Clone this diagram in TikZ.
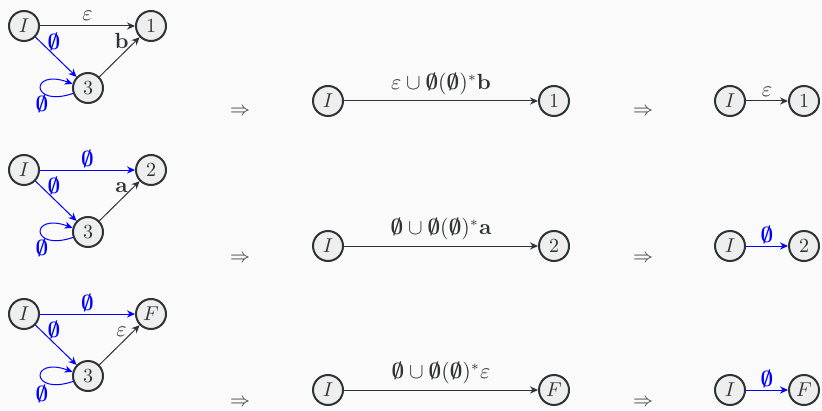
\documentclass[tikz,border=0pt]{standalone}
\usepackage{amsmath}
\usetikzlibrary{arrows.meta}
\definecolor{bg}{HTML}{FAFAFA}
\definecolor{ink}{HTML}{2E3436}
\definecolor{nodefill}{HTML}{EEEEEE}
\newcommand{\es}{\boldsymbol{\emptyset}}
\begin{document}
\begin{tikzpicture}[x=0.5pt,y=-0.5pt,
  st/.style={circle,draw=ink,fill=nodefill,line width=1pt,minimum size=15pt,inner sep=0pt,text=ink},
  ed/.style={-{Stealth[length=4pt,width=3.6pt]},draw=ink,line width=0.5pt},
  bed/.style={-{Stealth[length=4pt,width=3.6pt]},draw=blue,line width=0.5pt},
  bl/.style={text=blue,inner sep=1pt,font=\fontsize{10.5}{12}\selectfont},
  kl/.style={text=ink,inner sep=1pt,font=\fontsize{10.5}{12}\selectfont},
  imp/.style={text=ink}]
\fill[bg] (0,0) rectangle (822,411);
\useasboundingbox (0,0) rectangle (822,411);
% ---------- row 1 ----------
\node[st] (a1) at (24,26) {$I$};
\node[st] (b1) at (151,26) {$1$};
\node[st] (c1) at (88,88) {$3$};
\draw[ed] (a1) -- node[kl,above=1.5pt] {$\varepsilon$} (b1);
\draw[bed] (a1) -- node[bl,pos=0.45,above=1pt] {$\es$} (c1);
\draw[ed] (c1) -- node[kl,pos=0.55,above=2pt] {$\mathbf{b}$} (b1);
\draw[bed] (c1.200) .. controls (30,108) and (30,68) .. (c1.165);
\node[bl] (l1) at (42,104) {$\es$};
\node[imp] (r1a) at (240,112) {$\Rightarrow$};
\node[st] (m1a) at (328,101) {$I$};
\node[st] (m1b) at (554,101) {$1$};
\draw[ed] (m1a) -- node[kl,above=2pt] {$\varepsilon\cup\es(\es)^*\mathbf{b}$} (m1b);
\node[imp] (r1b) at (643,112) {$\Rightarrow$};
\node[st] (f1a) at (730,101) {$I$};
\node[st] (f1b) at (804,101) {$1$};
\draw[ed] (f1a) -- node[kl,above=1pt] {$\varepsilon$} (f1b);
% ---------- row 2 ----------
\node[st] (a2) at (24,170) {$I$};
\node[st] (b2) at (151,170) {$2$};
\node[st] (c2) at (88,232) {$3$};
\draw[bed] (a2) -- node[bl,above] {$\es$} (b2);
\draw[bed] (a2) -- node[bl,pos=0.45,above=1pt] {$\es$} (c2);
\draw[ed] (c2) -- node[kl,pos=0.55,above=2pt] {$\mathbf{a}$} (b2);
\draw[bed] (c2.200) .. controls (30,252) and (30,212) .. (c2.165);
\node[bl] (l2) at (42,248) {$\es$};
\node[imp] (r2a) at (240,259) {$\Rightarrow$};
\node[st] (m2a) at (328,246) {$I$};
\node[st] (m2b) at (554,246) {$2$};
\draw[ed] (m2a) -- node[kl,above=2pt] {$\es\cup\es(\es)^*\mathbf{a}$} (m2b);
\node[imp] (r2b) at (643,259) {$\Rightarrow$};
\node[st] (f2a) at (730,246) {$I$};
\node[st] (f2b) at (804,246) {$2$};
\draw[bed] (f2a) -- node[bl,above] {$\es$} (f2b);
% ---------- row 3 ----------
\node[st] (a3) at (24,314) {$I$};
\node[st] (b3) at (151,314) {$F$};
\node[st] (c3) at (88,376) {$3$};
\draw[bed] (a3) -- node[bl,above] {$\es$} (b3);
\draw[bed] (a3) -- node[bl,pos=0.45,above=1pt] {$\es$} (c3);
\draw[ed] (c3) -- node[kl,pos=0.55,above=2pt] {$\varepsilon$} (b3);
\draw[bed] (c3.200) .. controls (30,396) and (30,356) .. (c3.165);
\node[bl] (l3) at (42,394) {$\es$};
\node[imp] (r3a) at (240,403) {$\Rightarrow$};
\node[st] (m3a) at (328,390) {$I$};
\node[st] (m3b) at (554,390) {$F$};
\draw[ed] (m3a) -- node[kl,above=2pt] {$\es\cup\es(\es)^*\varepsilon$} (m3b);
\node[imp] (r3b) at (643,403) {$\Rightarrow$};
\node[st] (f3a) at (730,390) {$I$};
\node[st] (f3b) at (804,390) {$F$};
\draw[bed] (f3a) -- node[bl,above] {$\es$} (f3b);
\end{tikzpicture}
\end{document}
